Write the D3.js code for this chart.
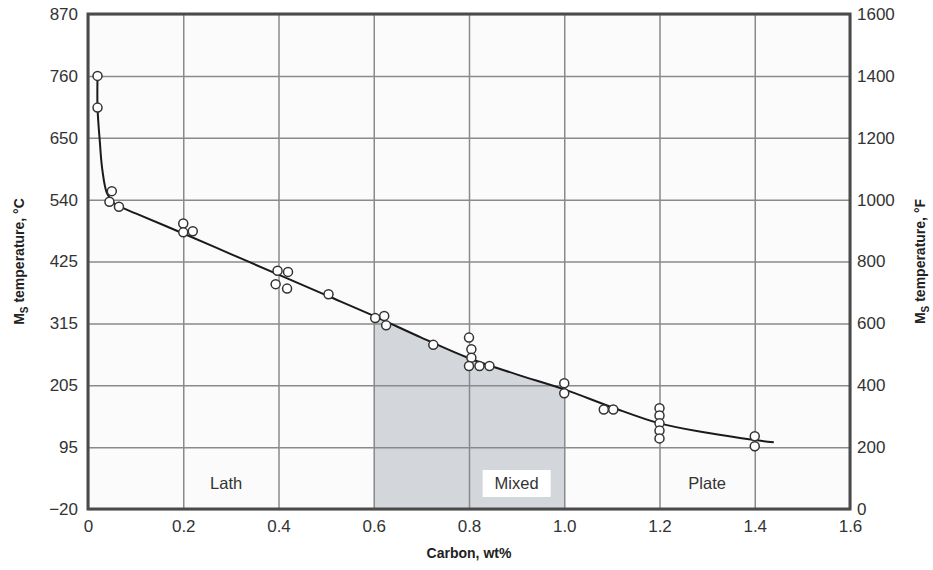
<!DOCTYPE html>
<html lang="en">
<head>
<meta charset="utf-8">
<title>Ms temperature vs carbon</title>
<script src="https://cdn.jsdelivr.net/npm/d3@7/dist/d3.min.js"></script>
<style>
  body { margin: 0; background: #fff; }
  svg { font-family: "Liberation Sans", Arial, sans-serif; }
  .tick text { font-size: 17px; fill: #333; }
  .grid line { stroke: #8a8a8a; stroke-width: 1.5; }
  .grid path { display: none; }
  .title { font-size: 14px; font-weight: bold; fill: #222; }
  .region { font-size: 16.5px; fill: #333; }
</style>
</head>
<body>
<script>
  // measured points (carbon wt%, Ms in degC)
  var carbonPts = [0.02, 0.02, 0.05, 0.045, 0.065, 0.2, 0.2, 0.22, 0.398, 0.42, 0.394, 0.418,
                   0.505, 0.603, 0.622, 0.626, 0.725, 0.8, 0.805, 0.805, 0.8, 0.822, 0.843,
                   1.0, 1.0, 1.083, 1.103, 1.2, 1.2, 1.2, 1.2, 1.2, 1.4, 1.4];
  var tempPts = [760, 703, 553, 534, 525, 495, 479, 481, 410, 408, 386, 378,
                 368, 325, 329, 312, 277, 290, 269, 254, 239, 239, 239,
                 208, 190, 161, 161, 163, 150, 136, 123, 109, 113, 95];

  // fitted curve
  var curveCarbon = [0.02, 0.02, 0.025, 0.03, 0.04, 0.055, 0.075, 0.1, 0.2, 0.3, 0.4, 0.5,
                     0.6, 0.7, 0.8, 0.9, 1.0, 1.1, 1.2, 1.3, 1.4, 1.44];
  var curveTemp = [760, 703, 640, 592, 549, 531, 522, 513, 477, 440, 403, 366,
                   329, 290, 253, 224, 197, 165, 136, 119, 106, 102];

  var xTicks = [0, 0.2, 0.4, 0.6, 0.8, 1.0, 1.2, 1.4, 1.6];
  var xTickLabels = ["0", "0.2", "0.4", "0.6", "0.8", "1.0", "1.2", "1.4", "1.6"];
  var fTicks = [0, 200, 400, 600, 800, 1000, 1200, 1400, 1600];
  var cTickLabels = ["\u221220", "95", "205", "315", "425", "540", "650", "760", "870"];

  var regionNames = ["Lath", "Mixed", "Plate"];
  var regionCarbon = [0.29, 0.9, 1.3];
  var mixedRange = [0.6, 1.0];

  var W = 933, H = 570;
  var padL = 88, padR = 850, padT = 14, padB = 509;

  function toC(f) { return (f - 32) * 5 / 9; }

  var x = d3.scaleLinear().domain([0, 1.6]).range([padL, padR]);
  var yF = d3.scaleLinear().domain([0, 1600]).range([padB, padT]);
  var yC = d3.scaleLinear().domain([toC(0), toC(1600)]).range([padB, padT]);

  var svg = d3.select("body").append("svg")
    .attr("width", W).attr("height", H);

  // plot background
  svg.append("rect")
    .attr("x", padL).attr("y", padT)
    .attr("width", padR - padL).attr("height", padB - padT)
    .attr("fill", "#fbfbfb");

  var curveData = curveCarbon.map(function(c, i) { return [c, curveTemp[i]]; });

  // shaded "mixed" zone under the curve
  var mixed = curveData.filter(function(d) { return d[0] >= mixedRange[0] && d[0] <= mixedRange[1]; });
  svg.append("path")
    .datum(mixed)
    .attr("fill", "#d3d6da")
    .attr("d", d3.area()
      .curve(d3.curveCatmullRom.alpha(0.5))
      .x(function(d) { return x(d[0]); })
      .y0(padB)
      .y1(function(d) { return yC(d[1]); }));

  // gridlines
  svg.append("g")
    .attr("class", "grid")
    .attr("transform", "translate(0," + padB + ")")
    .call(d3.axisBottom(x).tickValues(xTicks).tickSize(-(padB - padT)).tickFormat(""));
  svg.append("g")
    .attr("class", "grid")
    .attr("transform", "translate(" + padL + ",0)")
    .call(d3.axisLeft(yF).tickValues(fTicks).tickSize(-(padR - padL)).tickFormat(""));

  // frame
  svg.append("rect")
    .attr("x", padL).attr("y", padT)
    .attr("width", padR - padL).attr("height", padB - padT)
    .attr("fill", "none").attr("stroke", "#4a4a4a").attr("stroke-width", 3);

  // axes labels
  var xAxis = svg.append("g")
    .attr("transform", "translate(0," + padB + ")")
    .call(d3.axisBottom(x).tickValues(xTicks).tickSize(0).tickPadding(11)
      .tickFormat(function(d, i) { return xTickLabels[i]; }));
  xAxis.select(".domain").remove();

  var yLeft = svg.append("g")
    .attr("transform", "translate(" + padL + ",0)")
    .call(d3.axisLeft(yC).tickValues(fTicks.map(toC)).tickSize(0).tickPadding(10)
      .tickFormat(function(d, i) { return cTickLabels[i]; }));
  yLeft.select(".domain").remove();

  var yRight = svg.append("g")
    .attr("transform", "translate(" + padR + ",0)")
    .call(d3.axisRight(yF).tickValues(fTicks).tickSize(0).tickPadding(7)
      .tickFormat(d3.format("d")));
  yRight.select(".domain").remove();

  // fitted curve
  svg.append("path")
    .datum(curveData)
    .attr("fill", "none")
    .attr("stroke", "#1a1a1a")
    .attr("stroke-width", 2)
    .attr("d", d3.line()
      .curve(d3.curveCatmullRom.alpha(0.5))
      .x(function(d) { return x(d[0]); })
      .y(function(d) { return yC(d[1]); }));

  // data points
  svg.selectAll("circle.pt")
    .data(carbonPts.map(function(c, i) { return [c, tempPts[i]]; }))
    .enter().append("circle")
    .attr("class", "pt")
    .attr("cx", function(d) { return x(d[0]); })
    .attr("cy", function(d) { return yC(d[1]); })
    .attr("r", 4.5)
    .attr("fill", "#fff")
    .attr("stroke", "#333")
    .attr("stroke-width", 1.5);

  // region labels
  var labelY = padB - 26;
  regionNames.forEach(function(name, i) {
    if (name === "Mixed") {
      svg.append("rect")
        .attr("x", x(regionCarbon[i]) - 34).attr("y", labelY - 13)
        .attr("width", 68).attr("height", 27)
        .attr("fill", "#fff");
    }
    svg.append("text")
      .attr("class", "region")
      .attr("x", x(regionCarbon[i]))
      .attr("y", labelY)
      .attr("text-anchor", "middle")
      .attr("dy", "0.35em")
      .text(name);
  });

  // axis titles
  svg.append("text")
    .attr("class", "title")
    .attr("x", (padL + padR) / 2)
    .attr("y", 558)
    .attr("text-anchor", "middle")
    .text("Carbon, wt%");

  function yTitle(xPos, unit) {
    var t = svg.append("text")
      .attr("class", "title")
      .attr("text-anchor", "middle")
      .attr("transform", "translate(" + xPos + "," + ((padT + padB) / 2) + ") rotate(-90)");
    t.append("tspan").text("M");
    t.append("tspan").attr("dy", 4).attr("font-size", "10px").text("S");
    t.append("tspan").attr("dy", -4).text(" temperature, \u00b0" + unit);
  }
  yTitle(24, "C");
  yTitle(925, "F");
</script>
</body>
</html>
